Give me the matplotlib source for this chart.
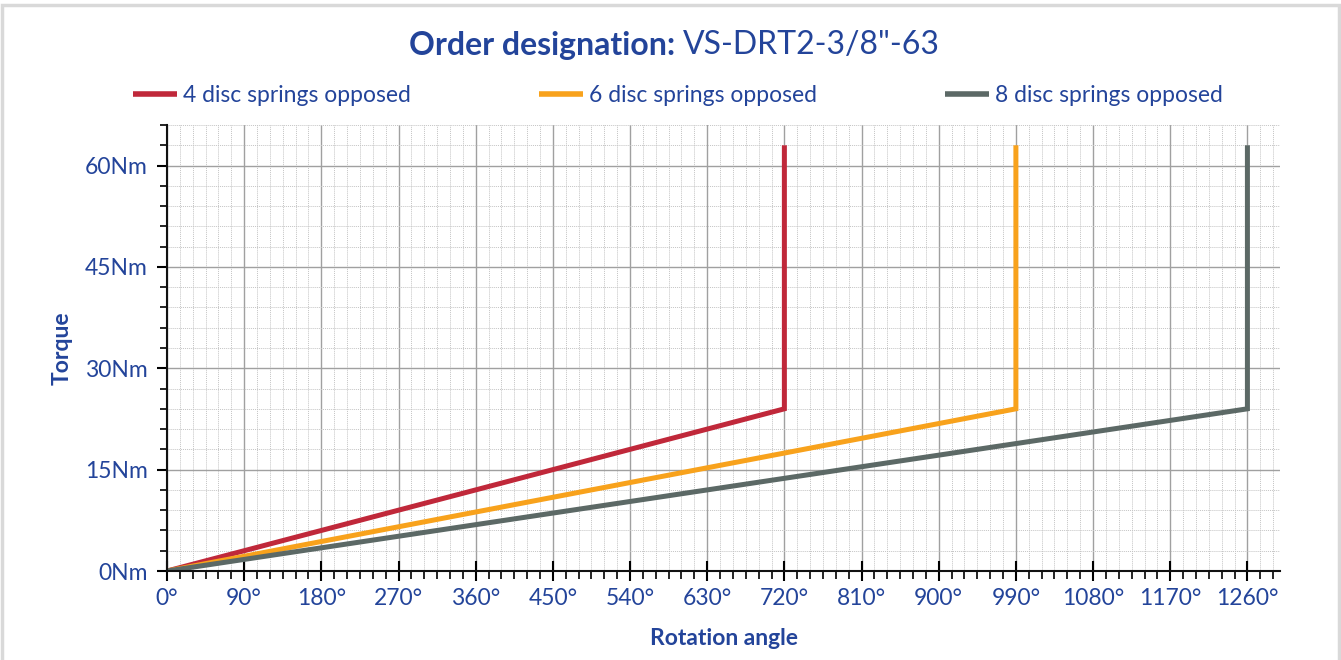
import numpy as np
import matplotlib.pyplot as plt
from matplotlib.patches import Rectangle
from matplotlib.ticker import MultipleLocator, FuncFormatter

plt.rcParams['font.family'] = ['Lato', 'DejaVu Sans']

# data: rotation angle (deg) vs torque (Nm)
labels = ["4 disc springs opposed", "6 disc springs opposed", "8 disc springs opposed"]
angles = [[0, 720, 720], [0, 990, 990], [0, 1260, 1260]]
torques = [[0, 24, 63], [0, 24, 63], [0, 24, 63]]
colors = ["#c0283a", "#f8a21c", "#5c6966"]

blue = "#23449a"

fig = plt.figure(figsize=(13.41, 6.6), dpi=100)
ax = fig.add_axes([167 / 1341, 1 - 571 / 660, (1280 - 167) / 1341, (571 - 125) / 660])

for x, y, c, lab in zip(angles, torques, colors, labels):
    ax.plot(x, y, color=c, lw=3.6, label=lab, solid_joinstyle='miter', solid_capstyle='butt')

ax.set_xlim(0, 1298)
ax.set_ylim(0, 66)
ax.xaxis.set_major_locator(MultipleLocator(90))
ax.xaxis.set_minor_locator(MultipleLocator(15))
ax.yaxis.set_major_locator(MultipleLocator(15))
ax.yaxis.set_minor_locator(MultipleLocator(3))
ax.xaxis.set_major_formatter(FuncFormatter(lambda v, p: "%d°" % v))
ax.yaxis.set_major_formatter(FuncFormatter(lambda v, p: "%dNm" % v))

ax.grid(which='major', color='#a0a0a0', lw=1.0)
ax.grid(which='minor', color='#c4c4c4', lw=0.7, ls=(0, (1, 1)))
ax.set_axisbelow(True)

for s in ['top', 'right']:
    ax.spines[s].set_visible(False)
for s in ['left', 'bottom']:
    ax.spines[s].set_linewidth(1.5)
    ax.spines[s].set_color('#111111')

ax.tick_params(axis='x', which='major', direction='inout', length=14, width=1.5, labelsize=16.5, labelcolor=blue, pad=5)
ax.tick_params(axis='x', which='minor', direction='out', length=6, width=1.2)
ax.tick_params(axis='y', which='major', direction='out', length=7, width=1.5, labelsize=16.5, labelcolor=blue, pad=7)
ax.tick_params(axis='y', which='minor', direction='out', length=5, width=1.2)

ax.set_xlabel("Rotation angle", fontsize=16.5, fontweight='bold', color=blue, labelpad=14)
ax.set_ylabel("Torque", fontsize=16.5, fontweight='bold', color=blue, labelpad=9)

leg = ax.legend(loc='lower left', bbox_to_anchor=(133 / 1341, 1 - 106 / 660), bbox_transform=fig.transFigure,
                ncol=3, frameon=False, fontsize=16.5, handlelength=1.92, handletextpad=0.26,
                columnspacing=5.6, borderaxespad=0, borderpad=0)
for t in leg.get_texts():
    t.set_color(blue)
for h in leg.get_lines():
    h.set_linewidth(4)

fig.text(675 / 1341, 1 - 45 / 660, "Order designation:", ha='right', va='center',
         fontsize=23, fontweight='bold', color=blue)
fig.text(683 / 1341, 1 - 45 / 660, 'VS-DRT2-3/8"-63', ha='left', va='center',
         fontsize=23, color=blue)

fig.patches.append(Rectangle((2 / 1341, -0.01), 1 - 4 / 1341, 1 - 5 / 660 + 0.01, transform=fig.transFigure,
                             fill=False, edgecolor='#d9d9d9', lw=2.5))

fig.savefig('out.png', dpi=100)
